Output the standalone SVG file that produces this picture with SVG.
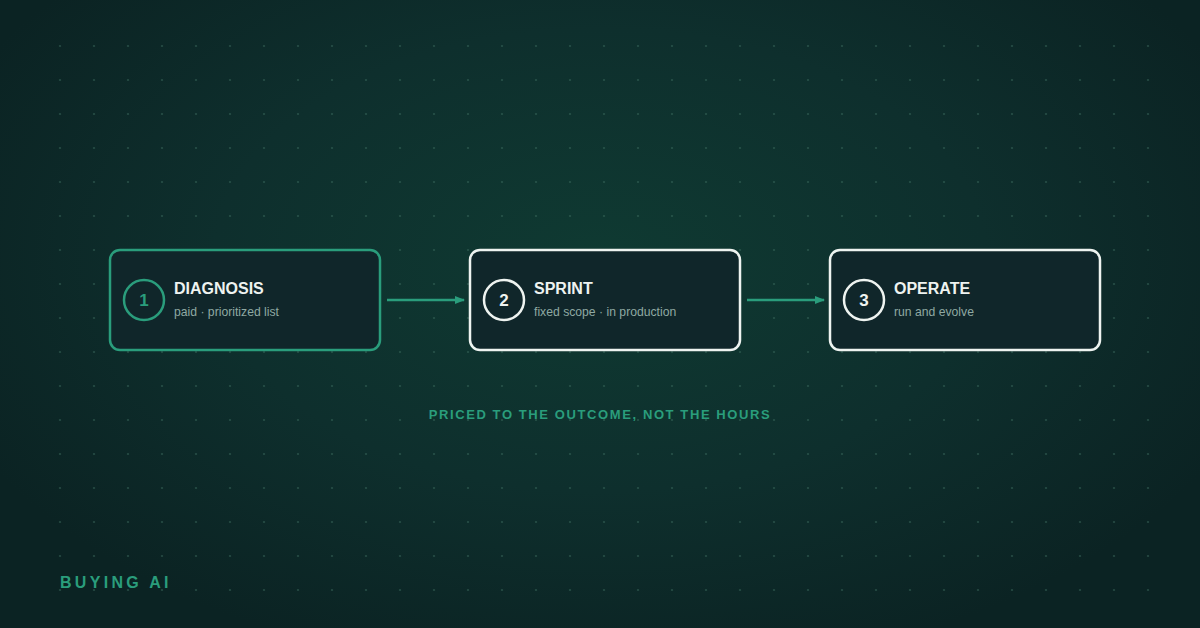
<svg xmlns="http://www.w3.org/2000/svg" width="1200" height="628" viewBox="0 0 1200 628">
  <defs>
    <radialGradient id="bg" cx="600" cy="260" r="700" gradientUnits="userSpaceOnUse" gradientTransform="translate(600 260) scale(1 0.6) translate(-600 -260)">
      <stop offset="0" stop-color="#0f3a32"/>
      <stop offset="0.55" stop-color="#0e2f2d"/>
      <stop offset="1" stop-color="#0b2323"/>
    </radialGradient>
    <pattern id="dots" x="43" y="29" width="34" height="34" patternUnits="userSpaceOnUse">
      <circle cx="17" cy="17" r="1.1" fill="#3f6f62" fill-opacity="0.5"/>
    </pattern>
    <marker id="arrow" viewBox="0 0 10 10" refX="9" refY="5" markerWidth="10" markerHeight="10" markerUnits="userSpaceOnUse" orient="auto">
      <path d="M0,1 L10,5 L0,9 z" fill="#2a9d7c"/>
    </marker>
    <style>
      .box { fill: #10262a; stroke-width: 2.5; }
      .active { stroke: #2a9d7c; }
      .idle { stroke: #eef3f0; }
      .num { font-family: "Liberation Sans", Arial, sans-serif; font-size: 17px; font-weight: bold; text-anchor: middle; }
      .title { font-family: "Liberation Sans", Arial, sans-serif; font-size: 16px; font-weight: bold; fill: #eef3f0; }
      .sub { font-family: "Liberation Sans", Arial, sans-serif; font-size: 12.2px; fill: #8fa9a2; }
      .conn { stroke: #2a9d7c; stroke-width: 2.5; fill: none; }
    </style>
  </defs>
  <rect width="1200" height="628" fill="url(#bg)"/>
  <rect x="43" y="29" width="1122" height="578" fill="url(#dots)"/>

  <g id="connectors">
    <line class="conn" x1="387" y1="300" x2="464" y2="300" marker-end="url(#arrow)"/>
    <line class="conn" x1="747" y1="300" x2="824" y2="300" marker-end="url(#arrow)"/>
  </g>

  <g id="node-diagnosis">
    <rect class="box active" x="110" y="250" width="270" height="100" rx="10"/>
    <circle cx="144" cy="300" r="20" fill="none" stroke="#2a9d7c" stroke-width="2.5"/>
    <text class="num" x="144" y="306" fill="#2a9d7c">1</text>
    <text class="title" x="174" y="294">DIAGNOSIS</text>
    <text class="sub" x="174" y="316">paid · prioritized list</text>
  </g>

  <g id="node-sprint">
    <rect class="box idle" x="470" y="250" width="270" height="100" rx="10"/>
    <circle cx="504" cy="300" r="20" fill="none" stroke="#eef3f0" stroke-width="2.5"/>
    <text class="num" x="504" y="306" fill="#eef3f0">2</text>
    <text class="title" x="534" y="294">SPRINT</text>
    <text class="sub" x="534" y="316">fixed scope · in production</text>
  </g>

  <g id="node-operate">
    <rect class="box idle" x="830" y="250" width="270" height="100" rx="10"/>
    <circle cx="864" cy="300" r="20" fill="none" stroke="#eef3f0" stroke-width="2.5"/>
    <text class="num" x="864" y="306" fill="#eef3f0">3</text>
    <text class="title" x="894" y="294">OPERATE</text>
    <text class="sub" x="894" y="316">run and evolve</text>
  </g>

  <text x="600" y="419" text-anchor="middle" font-family="'Liberation Sans', Arial, sans-serif" font-size="13" font-weight="bold" letter-spacing="1.6" fill="#2a9d7c">PRICED TO THE OUTCOME, NOT THE HOURS</text>
  <text x="60" y="588" font-family="'Liberation Sans', Arial, sans-serif" font-size="16" font-weight="bold" letter-spacing="3.3" fill="#2a9d7c">BUYING AI</text>
</svg>
